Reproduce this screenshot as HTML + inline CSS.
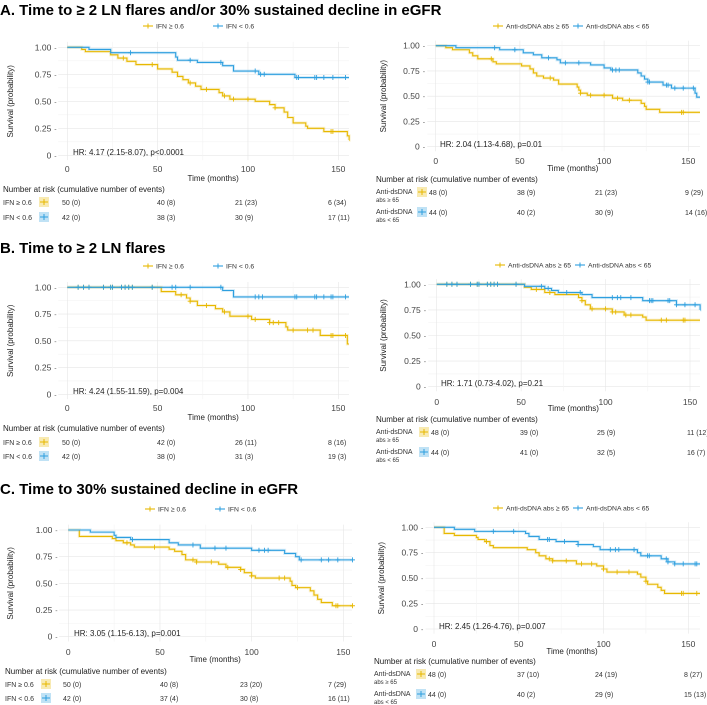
<!DOCTYPE html>
<html><head><meta charset="utf-8">
<style>
html,body{margin:0;padding:0;background:#fff;}
svg{display:block;font-family:"Liberation Sans",sans-serif;}
</style></head>
<body>
<svg id="fig" width="707" height="705" viewBox="0 0 707 705" xmlns="http://www.w3.org/2000/svg"></svg>
<script>
// ===== Panel A left =====
const aL_yT=[8,10,24,28,33,38,50,58,61,64,67,71,74,84,86,90,104,112,115,120,122,125,132,133,142,155,156];
const aL_yS=[0.98,0.96,0.93,0.90,0.87,0.84,0.80,0.77,0.73,0.70,0.67,0.64,0.61,0.58,0.55,0.52,0.50,0.47,0.44,0.40,0.35,0.30,0.27,0.25,0.22,0.18,0.14];
const aL_yC=[31,47,68,77,87,92,100,115,146,147];
const aL_bT=[12,24,60,61,72,86,92,106,126];
const aL_bS=[0.98,0.95,0.91,0.88,0.86,0.83,0.78,0.75,0.72];
const aL_bC=[35,68,85,104,107,109,127,128,137,138,142,147,154];
const aL_risk1=["50 (0)","40 (8)","21 (23)","6   (34)"];
const aL_risk2=["42 (0)","38 (3)","30 (9)","17 (11)"];
// ===== Panel A right =====
const aR_yT=[6,10,20,22,25,34,36,51,56,58,60,64,70,73,84,85,86,90,105,111,122,124,125,133];
const aR_yS=[0.98,0.96,0.93,0.90,0.87,0.84,0.82,0.80,0.77,0.73,0.70,0.68,0.66,0.62,0.59,0.56,0.53,0.51,0.48,0.46,0.43,0.40,0.37,0.34];
const aR_yC=[33,68,86,92,100,108,115,146,147];
const aR_bT=[12,38,52,58,63,72,74,92,100,104,120,122,124,126,135,140,154,155];
const aR_bS=[0.98,0.96,0.93,0.91,0.88,0.86,0.83,0.81,0.78,0.76,0.73,0.70,0.67,0.64,0.61,0.58,0.53,0.49];
const aR_bC=[35,47,67,77,85,105,107,109,126,127,137,138,142,147,153];
const aR_risk1=["48 (0)","38 (9)","21 (23)","9   (29)"];
const aR_risk2=["44 (0)","40 (2)","30 (9)","14 (16)"];
// ===== Panel B left =====
const early=[6,9,12,20,24,25,30,32,34,36,47];
const bL_yT=[52,60,66,68,72,82,86,90,102,112,121,122,140,155];
const bL_yS=[0.96,0.93,0.90,0.87,0.83,0.80,0.77,0.73,0.70,0.67,0.63,0.60,0.55,0.47];
const bL_yC=early.concat([63,68,77,87,100,104,112,114,117,125,133,136,146,147,154]);
const bL_bT=[86,92];
const bL_bS=[0.97,0.91];
const bL_bC=early.concat([58,60,68,85,104,106,108,126,127,137,138,142,146,147,154]);
const bL_risk1=["50 (0)","42 (0)","26 (11)","8   (16)"];
const bL_risk2=["42 (0)","38 (0)","31 (3)","19 (3)"];
// ===== Panel B right =====
const bR_yT=[52,56,64,70,84,86,88,91,104,111,122,124];
const bR_yS=[0.97,0.95,0.92,0.90,0.87,0.84,0.80,0.76,0.73,0.70,0.68,0.65];
const bR_yC=early.concat([59,67,86,92,100,104,106,112,115,133,136,146,147]);
const bR_bT=[52,64,68,72,86,92,122,142,156];
const bR_bS=[0.98,0.96,0.94,0.92,0.90,0.87,0.84,0.80,0.75];
const bR_bC=early.concat([62,66,77,85,104,107,109,115,126,127,128,137,138,142,147,153]);
const bR_risk1=["48 (0)","39 (0)","25 (9)","11 (12)"];
const bR_risk2=["44 (0)","41 (0)","32 (5)","16 (7)"];
// ===== Panel C left =====
const cL_yT=[6,24,26,30,34,36,55,58,62,64,70,82,86,94,96,100,102,121,122,124,132,134,136,138,144];
const cL_yS=[0.94,0.92,0.90,0.88,0.86,0.84,0.82,0.80,0.77,0.72,0.70,0.68,0.65,0.63,0.60,0.57,0.55,0.52,0.48,0.46,0.43,0.39,0.35,0.32,0.29];
const cL_yC=[32,47,68,70,78,87,94,100,115,118,125,146,147,155];
const cL_bT=[12,25,26,34,55,60,72,100,118,124,126];
const cL_bS=[0.98,0.95,0.93,0.91,0.88,0.86,0.83,0.81,0.78,0.75,0.72];
const cL_bC=[35,68,80,86,104,107,109,127,138,142,147,155];
const cL_risk1=["50 (0)","40 (8)","23 (20)","7   (29)"];
const cL_risk2=["42 (0)","37 (4)","30 (8)","16 (11)"];
// ===== Panel C right =====
const cR_yT=[6,12,25,26,30,33,35,55,60,62,66,70,84,96,100,102,120,122,125,126,132,134,136];
const cR_yS=[0.94,0.92,0.90,0.88,0.86,0.82,0.80,0.78,0.75,0.72,0.69,0.67,0.64,0.62,0.59,0.56,0.54,0.51,0.47,0.44,0.41,0.38,0.35];
const cR_yC=[31,68,70,78,87,93,100,108,115,125,146,147,155];
const cR_bT=[12,24,54,56,62,72,85,94,98,120,122,134,138,142];
const cR_bS=[0.98,0.96,0.94,0.91,0.88,0.86,0.83,0.81,0.78,0.75,0.72,0.69,0.66,0.64];
const cR_bC=[35,47,67,68,77,85,104,107,109,118,126,127,137,138,142,147,154,155];
const cR_risk1=["48 (0)","37 (10)","24 (19)","8   (27)"];
const cR_risk2=["44 (0)","40 (2)","29 (9)","15 (13)"];

const xTicks=[0,50,100,150];
const yTicks=[0,0.25,0.5,0.75,1];
const yTickLabels=["0","0.25","0.50","0.75","1.00"];
const YEL="#E7B800", BLU="#2E9FDF";
const NS="http://www.w3.org/2000/svg";
const svg=document.getElementById('fig');
function el(tag,attrs,parent,text){const e=document.createElementNS(NS,tag);for(const k in attrs)e.setAttribute(k,attrs[k]);if(text!==undefined)e.textContent=text;(parent||svg).appendChild(e);return e;}

function title(txt,y,name){
  const t=el('text',{x:0,y:y,'font-size':15,'font-weight':'bold',fill:'#000'},svg,txt);
  
  
}
title("A. Time to ≥ 2 LN flares and/or 30% sustained decline in eGFR",15,"title-a");
title("B. Time to ≥ 2 LN flares",253,"title-b");
title("C. Time to 30% sustained decline in eGFR",494,"title-c");

function panel(c,yT,yS,yC,bT,bS,bC,r1,r2){
  const g=el('g',{});
  
  
  const sx=t=>c.x0+(c.x150-c.x0)*t/150;
  const sy=s=>c.y0+(c.y1-c.y0)*s;
  const left=sx(-5), right=c.right, top=sy(1.05), bot=sy(-0.045);
  for(let i=0;i<9;i++){const v=i*0.125;el('line',{x1:left,x2:right,y1:sy(v),y2:sy(v),stroke:i%2?'#f3f3f3':'#e6e6e6','stroke-width':0.6},g);}
  for(let t=-25;t<=160;t+=25){if(t<-5)continue;const X=sx(t);if(X>right)continue;el('line',{x1:X,x2:X,y1:top,y2:bot,stroke:t%50?'#f3f3f3':'#e6e6e6','stroke-width':0.6},g);}
  yTicks.forEach((v,i)=>{
    const t=el('text',{x:c.x0-16,y:sy(v)+3,'font-size':8.5,'text-anchor':'end',fill:'#444'},g,yTickLabels[i]);
    
    
    el('text',{x:c.x0-13,y:sy(v)+3,'font-size':7,fill:'#666'},g,'-');
  });
  xTicks.forEach(v=>{
    const t=el('text',{x:sx(v),y:c.xl,'font-size':8.5,'text-anchor':'middle',fill:'#444'},g,String(v));
    
    
  });
  const xt=el('text',{x:(sx(0)+right)/2+5,y:c.xt,'font-size':8,'text-anchor':'middle',fill:'#222'},g,'Time (months)');
  
  
  const yx=c.yax, ym=(sy(0)+sy(1))/2;
  const yt=el('text',{x:yx,y:ym,'font-size':8,'text-anchor':'middle',fill:'#222',transform:`rotate(-90 ${yx} ${ym})`},g,'Survival (probability)');
  
  
  const hr=el('text',{x:c.hrx,y:c.hry,'font-size':8,fill:'#222'},g,c.hr);
  
  
  function curve(T,S,C,col,nm){
    let d=`M${sx(0)},${sy(1)}`;
    T.forEach((t,i)=>{d+=` H${sx(t)} V${sy(S[i])}`;});
    d+=` H${right}`;
    el('path',{d:d,fill:'none',stroke:col,'stroke-width':3,'stroke-opacity':0.18},g);
    const p=el('path',{d:d,fill:'none',stroke:col,'stroke-width':1.1},g);
    
    
    C.forEach(t=>{
      let s=1;T.forEach((tt,i)=>{if(tt<=t)s=S[i];});
      const X=sx(t),Y=sy(s);
      const m=el('path',{d:`M${X-2.5},${Y}H${X+2.5}M${X},${Y-2.5}V${Y+2.5}`,stroke:col,'stroke-width':0.9},g);
      
      
    });
  }
  curve(yT,yS,yC,YEL,'high-group');
  curve(bT,bS,bC,BLU,'low-group');
  [[c.lg1,YEL,c.lab1],[c.lg2,BLU,c.lab2]].forEach(([lx,col,lab],i)=>{
    const ly=c.ly;
    el('line',{x1:lx,x2:lx+10,y1:ly,y2:ly,stroke:col,'stroke-width':1.1},g);
    el('line',{x1:lx+5,x2:lx+5,y1:ly-2.5,y2:ly+2.5,stroke:col,'stroke-width':1},g);
    const t=el('text',{x:lx+13,y:ly+2.5,'font-size':6.8,fill:'#333'},g,lab);
    
    
  });
  const nt=el('text',{x:c.tx,y:c.nary,'font-size':8,fill:'#222'},g,'Number at risk (cumulative number of events)');
  
  
  [[c.r1y,YEL,c.rl1,r1],[c.r2y,BLU,c.rl2,r2]].forEach(([ry,col,lab,vals])=>{
    if(lab.length===1){el('text',{x:c.tx,y:ry+3,'font-size':7,fill:'#333'},g,lab[0]);}
    else{el('text',{x:c.tx,y:ry+2,'font-size':7,fill:'#333'},g,lab[0]);el('text',{x:c.tx,y:ry+10,'font-size':6,fill:'#333'},g,lab[1]);}
    el('rect',{x:c.swx,y:ry-5,width:10,height:10,fill:col,'fill-opacity':0.3},g);
    el('line',{x1:c.swx+1,x2:c.swx+9,y1:ry,y2:ry,stroke:col,'stroke-width':1},g);
    el('line',{x1:c.swx+5,x2:c.swx+5,y1:ry-3,y2:ry+3,stroke:col,'stroke-width':1},g);
    vals.forEach((v,j)=>{
      const t=el('text',{x:c.vx[j],y:ry+3,'font-size':7,fill:'#333','xml:space':'preserve'},g,v);
      
      
    });
  });
}
const LabIF=["IFN ≥ 0.6","IFN < 0.6"], LabAD=["Anti-dsDNA abs ≥ 65","Anti-dsDNA abs < 65"];
const lvx=[62,157,235,328], rvx=[429,517,595,685];
panel({name:'panel-a-ifn',x0:67.3,x150:338.3,right:349,y1:47.3,y0:155.3,xl:172,xt:181,yax:13,hrx:73,hry:155,hr:'HR: 4.17 (2.15-8.07), p<0.0001',lg1:143,lg2:213,ly:26,lab1:LabIF[0],lab2:LabIF[1],tx:3,nary:192,r1y:202,r2y:217,rl1:[LabIF[0]],rl2:[LabIF[1]],swx:39,vx:lvx},aL_yT,aL_yS,aL_yC,aL_bT,aL_bS,aL_bC,aL_risk1,aL_risk2);
panel({name:'panel-a-dsdna',x0:435.7,x150:688.3,right:700,y1:45.7,y0:146.7,xl:164,xt:171,yax:386,hrx:440,hry:147,hr:'HR: 2.04 (1.13-4.68), p=0.01',lg1:493,lg2:573,ly:26,lab1:LabAD[0],lab2:LabAD[1],tx:376,nary:182,r1y:192,r2y:212,rl1:['Anti-dsDNA','abs ≥ 65'],rl2:['Anti-dsDNA','abs < 65'],swx:417,vx:rvx},aR_yT,aR_yS,aR_yC,aR_bT,aR_bS,aR_bC,aR_risk1,aR_risk2);
panel({name:'panel-b-ifn',x0:67.3,x150:338.3,right:349,y1:287.3,y0:394.3,xl:411,xt:420,yax:13,hrx:73,hry:394,hr:'HR: 4.24 (1.55-11.59), p=0.004',lg1:143,lg2:213,ly:266,lab1:LabIF[0],lab2:LabIF[1],tx:3,nary:431,r1y:442,r2y:456,rl1:[LabIF[0]],rl2:[LabIF[1]],swx:39,vx:lvx},bL_yT,bL_yS,bL_yC,bL_bT,bL_bS,bL_bC,bL_risk1,bL_risk2);
panel({name:'panel-b-dsdna',x0:436.7,x150:690,right:700,y1:284.3,y0:386.7,xl:405,xt:411,yax:386,hrx:441,hry:386,hr:'HR: 1.71 (0.73-4.02), p=0.21',lg1:495,lg2:575,ly:265,lab1:LabAD[0],lab2:LabAD[1],tx:376,nary:422,r1y:432,r2y:452,rl1:['Anti-dsDNA','abs ≥ 65'],rl2:['Anti-dsDNA','abs < 65'],swx:419,vx:[431,520,597,687]},bR_yT,bR_yS,bR_yC,bR_bT,bR_bS,bR_bC,bR_risk1,bR_risk2);
panel({name:'panel-c-ifn',x0:68.3,x150:343.3,right:352,y1:530,y0:636.7,xl:655,xt:662,yax:13,hrx:74,hry:636,hr:'HR: 3.05 (1.15-6.13), p=0.001',lg1:145,lg2:215,ly:509,lab1:LabIF[0],lab2:LabIF[1],tx:5,nary:674,r1y:684,r2y:698,rl1:[LabIF[0]],rl2:[LabIF[1]],swx:41,vx:[63,160,240,328]},cL_yT,cL_yS,cL_yC,cL_bT,cL_bS,cL_bC,cL_risk1,cL_risk2);
panel({name:'panel-c-dsdna',x0:434,x150:688.3,right:700,y1:527.3,y0:629,xl:647,xt:654,yax:384,hrx:439,hry:629,hr:'HR: 2.45 (1.26-4.76), p=0.007',lg1:493,lg2:573,ly:508,lab1:LabAD[0],lab2:LabAD[1],tx:374,nary:664,r1y:674,r2y:694,rl1:['Anti-dsDNA','abs ≥ 65'],rl2:['Anti-dsDNA','abs < 65'],swx:416,vx:[428,517,595,684]},cR_yT,cR_yS,cR_yC,cR_bT,cR_bS,cR_bC,cR_risk1,cR_risk2);
</script>
</body></html>
